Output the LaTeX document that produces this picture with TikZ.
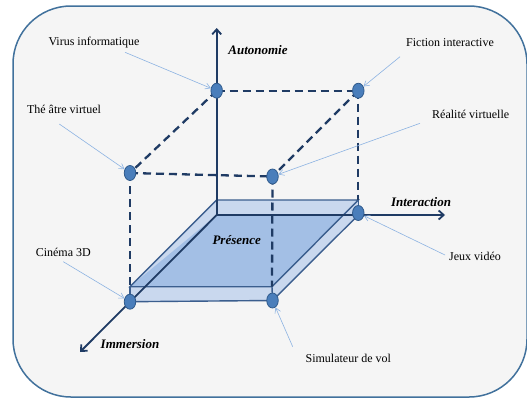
\documentclass[tikz,border=0pt]{standalone}
\usepackage{fontspec}
\setmainfont{Liberation Serif}
\usepackage{xcolor}
\usetikzlibrary{arrows.meta,positioning,shapes.geometric,backgrounds}
\definecolor{frameblue}{HTML}{41719C}
\definecolor{axisblue}{HTML}{1F3B64}
\definecolor{dotblue}{HTML}{4A7EBB}
\definecolor{dotedge}{HTML}{2F5A8C}
\definecolor{calloutblue}{HTML}{8DB3E2}
\definecolor{platelight}{HTML}{C9D8EE}
\definecolor{platedark}{HTML}{A3BFE5}
\definecolor{plateedge}{HTML}{3B5E8E}
\definecolor{bggray}{HTML}{F5F5F5}

\begin{document}
\begin{tikzpicture}[ x=1pt, y=-1pt, spot/.style = {ellipse, draw=dotedge,
					line width=0.8pt, fill=dotblue, minimum width=11.5pt, minimum height=15pt,
					inner sep=0pt}, axis/.style = {-{Straight Barb[length=5pt, width=9pt]},
					line width=1.8pt, draw=axisblue}, dashededge/.style = {dash
					pattern=on 8pt off 5pt, line width=2.3pt, draw=axisblue},
			callout/.style = {-{Straight Barb[length=5pt, width=6pt]}, line
					width=0.6pt, draw=calloutblue}, itemtext/.style =
				{font=\fontsize{12}{14}\selectfont, inner sep=0pt}, axistext/.style =
				{font=\fontsize{13}{15}\selectfont\bfseries\itshape, inner sep=0pt},
			plateline/.style = {line width=1.4pt, draw=plateedge}
			% Define styles
		]
		\useasboundingbox (0,0) rectangle (527,399);

		% Coordinates
		\coordinate (O) at (216.7,215); \coordinate (AutoTip) at (216.7,28);
		\coordinate (InterTip) at (445,215); \coordinate (ImmTip) at (80,352);
		\coordinate (P1) at (216.7,200); \coordinate (P2) at (358.3,200);
		\coordinate (P3) at (272,286.7); \coordinate (P4) at (130,286.7);

		% Nodes
		\node [spot] (virus) at (216.7,90.7) {}; \node [spot] (fiction) at
		(358.3,90.7) {}; \node [spot] (theatre) at (130,173) {}; \node [spot]
		(realite) at (272.5,176.5) {}; \node [spot] (cinema) at (130,301.7) {};
		\node [spot] (jeux) at (358.3,213) {}; \node [spot] (simul) at
		(272.5,300.5) {};

		\node [axistext] (Auto) at (258,50) {Autonomie}; \node [axistext]
		(Inter) at (421,202) {Interaction}; \node [axistext] (Imm) at (130,344)
		{Immersion}; \node [axistext] (Pres) at (236.7,240) {Présence};

		\node [itemtext] (lVirus) at (94,43) {Virus informatique}; \node
		[itemtext] (lTheatre) at (64,109) {Thé âtre virtuel}; \node [itemtext]
		(lFiction) at (450,43) {Fiction interactive}; \node [itemtext]
		(lRealite) at (470.7,114) {Réalité virtuelle}; \node [itemtext]
		(lCinema) at (63.3,252) {Cinéma 3D}; \node [itemtext] (lJeux) at
		(475,256) {Jeux vidéo}; \node [itemtext] (lSimul) at (348.3,358)
		{Simulateur de vol};

		\begin{scope}[on background layer]
			% Frame
			\draw [draw=frameblue, line width=1.5pt, fill=bggray, rounded
				corners=58pt] (13,6) rectangle (527,397);

			% Plate
			\fill [platelight] (P1) -- (P2) -- (358.3,215) -- (simul.center) --
			(cinema.center) -- (P4) -- cycle; \fill [platedark] (O) --
			(343.3,215) -- (P3) -- (P4) -- cycle;
			\draw [plateline] (P1) -- (P2) -- (P3) -- (P4) -- cycle; \draw
			[plateline] (cinema.center) -- (simul.center) -- (358.3,215);
			\draw [plateline] (P4) -- (cinema.center); \draw [plateline] (P3)
			-- (simul.center); \draw [plateline] (P2) -- (358.3,215); \draw
			[plateline] (P1) -- (O);

			% Axes
			\draw [axis] (O) -- (AutoTip); \draw [axis] (O) -- (InterTip); \draw
			[axis] (O) -- (ImmTip);

			% Dashed edges
			\draw [dashededge] (virus.center) -- (fiction.center); \draw
			[dashededge] (virus.center) -- (theatre.center); \draw [dashededge]
			(fiction.center) -- (realite.center); \draw [dashededge]
			(theatre.center) -- (realite.center); \draw [dashededge]
			(theatre.center) -- (P4); \draw [dashededge] (realite.center) --
			(P3); \draw [dashededge] (fiction.center) -- (P2);
		\end{scope}

		% Arrows
		\coordinate (tVirus) at (125,52.3); \coordinate (tTheatre) at
		(59.3,124); \coordinate (tFiction) at (400,56.7); \coordinate
		(tRealite) at (420,123.3); \coordinate (tCinema) at (63.3,261.7);
		\coordinate (tJeux) at (445,255); \coordinate (tSimul) at (292.7,346.7);

		\draw [callout] (tVirus) -- (virus); \draw [callout] (tTheatre) --
		(theatre); \draw [callout] (tFiction) -- (fiction); \draw [callout]
		(tRealite) -- (realite); \draw [callout] (tCinema) -- (cinema); \draw
		[callout] (tJeux) -- (jeux); \draw [callout] (tSimul) -- (simul);
	\end{tikzpicture}
\end{document}
